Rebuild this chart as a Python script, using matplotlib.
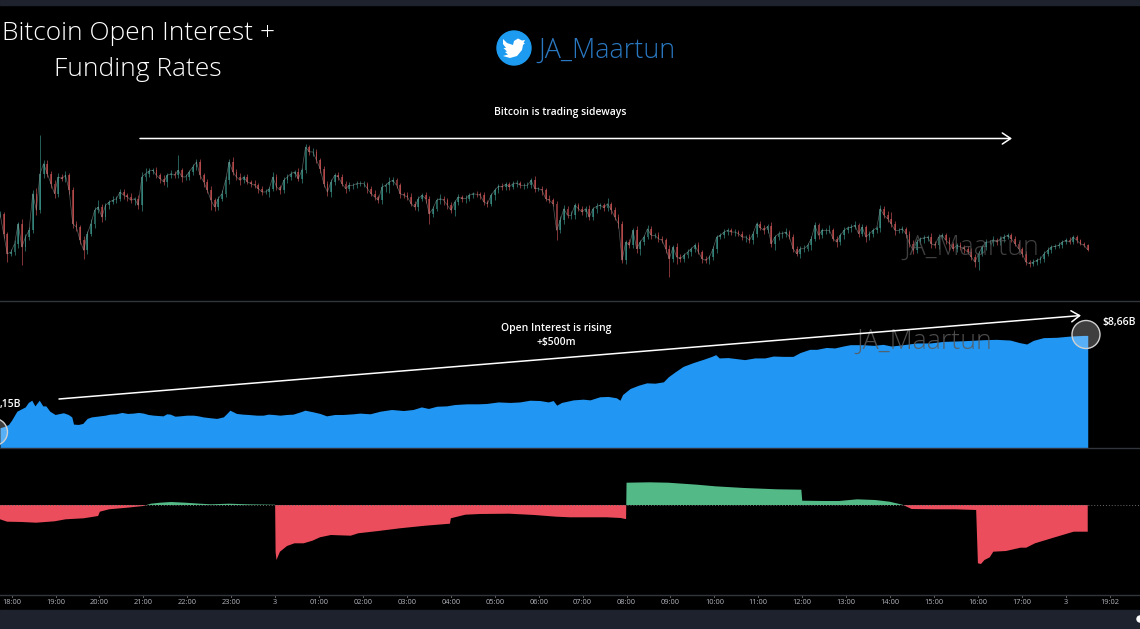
#!/usr/bin/env python3
"""Bitcoin open interest and funding rates, three stacked TradingView-style panes."""

import matplotlib

matplotlib.use("Agg")
import matplotlib.pyplot as plt
import numpy as np
from matplotlib.patches import Circle, Polygon, Rectangle

WIDTH, HEIGHT = 1140, 629
LEFT_HOUR, RIGHT_HOUR = -0.264, 25.69

# price has no scale in the picture, so it is in arbitrary units
price_close = [
    260, 200, 140, 145, 170, 230, 160, 190, 210, 320, 270, 380, 410, 380, 350, 320, 370, 365, 375, 330,
    230, 220, 180, 150, 200, 230, 270, 280, 250, 285, 295, 300, 305, 325, 315, 310, 300, 305, 285, 370,
    380, 388, 390, 375, 365, 355, 375, 380, 375, 390, 370, 370, 385, 400, 415, 375, 355, 330, 300, 280,
    305, 320, 360, 415, 385, 370, 360, 370, 355, 350, 345, 335, 325, 325, 335, 370, 340, 330, 360, 370,
    380, 385, 365, 390, 460, 445, 445, 420, 395, 350, 325, 355, 375, 370, 350, 335, 345, 345, 350, 350,
    350, 335, 320, 310, 300, 340, 345, 355, 360, 345, 320, 315, 310, 290, 280, 305, 315, 305, 260, 275,
    300, 305, 300, 285, 270, 295, 310, 305, 305, 315, 320, 318, 315, 295, 290, 315, 330, 342, 340, 348,
    340, 350, 352, 345, 345, 345, 360, 335, 335, 330, 305, 300, 290, 210, 240, 275, 255,
    255, 285, 275, 265, 275, 250, 275, 282, 285, 278, 290, 272, 250, 230, 120, 175, 165, 210, 155, 175,
    190, 215, 195, 195, 185, 180, 155, 125, 160, 130, 125, 135, 145, 155, 165, 145, 125, 120, 130, 155,
    190, 195, 205, 210, 205, 205, 200, 190, 190, 180, 200, 230, 218, 210, 222, 170, 190, 200, 200, 205,
    190, 155, 140, 155, 155, 165, 185, 225, 195, 210, 210, 210, 185, 175, 195, 210, 218, 220, 225, 200,
    220, 190, 200, 210, 218, 275, 255, 245, 230, 210, 210, 215, 200, 170, 150, 175, 185, 188, 190, 170,
    165, 190, 195, 180, 170, 155, 165, 160, 155, 145, 130, 115, 140, 160, 175, 175, 182, 175, 185, 190,
    195, 185, 170, 155, 140, 115, 110, 115, 120, 125, 140, 150, 160, 162, 165, 175, 180, 175, 190, 180,
    170, 165, 152,
]
price_upper = [
    8, 6, 5, 10, 12, 6, 14, 10, 9, 12, 18, 115, 10, 12, 8, 10, 12, 8, 14, 6,
    10, 8, 6, 12, 9, 14, 10, 22, 8, 7, 6, 12, 9, 10, 8, 7, 12, 6, 10, 14,
    16, 9, 8, 10, 6, 12, 8, 10, 7, 45, 8, 10, 6, 10, 10, 9, 7, 8, 12, 6,
    9, 10, 14, 8, 16, 8, 12, 7, 9, 6, 10, 8, 7, 9, 6, 14, 8, 7, 9, 10,
    8, 6, 12, 7, 8, 6, 12, 9, 6, 8, 7, 10, 6, 9, 8, 7, 10, 6, 8, 7,
    9, 6, 8, 10, 7, 12, 6, 16, 10, 7, 8, 6, 9, 12, 7, 8, 6, 10, 9, 8,
    7, 14, 8, 6, 9, 7, 8, 6, 10, 8, 6, 9, 7, 10, 6, 8, 7, 6, 9, 8,
    6, 8, 10, 7, 6, 9, 8, 14, 6, 8, 7, 10, 6, 8, 12, 10, 8, 14, 6, 7,
    8, 7, 10, 6, 9, 8, 7, 16, 6, 8, 10, 7, 6, 9, 8, 12, 7, 6, 10, 8,
    6, 9, 7, 8, 10, 6, 12, 8, 7, 9, 6, 8, 10, 7, 9, 6, 8, 7, 6, 10,
    8, 6, 9, 7, 8, 6, 10, 7, 6, 8, 9, 7, 14, 6, 8, 7, 12, 6, 9, 7,
    8, 10, 6, 7, 9, 6, 8, 7, 16, 6, 7, 8, 10, 6, 9, 14, 7, 8, 6, 9,
    7, 6, 12, 8, 14, 20, 7, 8, 9, 6, 7, 10, 8, 6, 9, 7, 12, 8, 10, 6,
    7, 9, 6, 8, 10, 6, 7, 12, 8, 9, 6, 8, 7, 10, 6, 8, 9, 7, 6, 8,
    7, 6, 8, 7, 9, 6, 7, 8, 10, 6, 7, 9, 6, 8, 10, 6, 7, 5, 6, 4,
]
price_lower = [
    10, 12, 25, 8, 10, 14, 55, 12, 10, 9, 14, 8, 12, 10, 14, 12, 10, 8, 9, 12,
    14, 12, 10, 25, 10, 8, 12, 9, 14, 8, 10, 7, 9, 8, 10, 12, 8, 14, 10, 16,
    12, 10, 8, 9, 12, 10, 14, 8, 9, 7, 14, 10, 9, 8, 10, 12, 14, 9, 30, 12,
    10, 8, 9, 12, 10, 8, 14, 9, 7, 10, 8, 12, 9, 7, 14, 8, 10, 12, 9, 8,
    10, 9, 8, 14, 7, 10, 12, 8, 14, 9, 12, 14, 8, 9, 7, 12, 8, 10, 9, 7,
    9, 12, 8, 10, 7, 10, 14, 22, 9, 8, 12, 7, 10, 8, 9, 12, 8, 14, 30, 10,
    8, 12, 14, 10, 9, 16, 8, 10, 12, 7, 9, 8, 12, 10, 9, 8, 14, 7, 8, 9,
    10, 7, 9, 8, 12, 7, 9, 10, 8, 14, 7, 9, 8, 30, 8, 12, 7, 12, 10, 8,
    9, 14, 10, 8, 12, 7, 10, 9, 14, 8, 12, 7, 10, 9, 8, 14, 20, 9, 7, 10,
    8, 9, 7, 12, 55, 10, 22, 10, 9, 8, 12, 9, 7, 14, 8, 10, 9, 12, 7, 8,
    10, 8, 12, 7, 9, 14, 8, 10, 9, 7, 12, 8, 9, 20, 8, 12, 10, 7, 9, 8,
    12, 9, 7, 14, 8, 10, 9, 12, 7, 8, 14, 9, 10, 8, 12, 7, 9, 8, 14, 10,
    9, 7, 12, 8, 10, 9, 14, 7, 8, 12, 9, 10, 8, 7, 12, 9, 14, 8, 10, 7,
    12, 20, 8, 10, 9, 12, 7, 9, 14, 25, 8, 10, 7, 12, 9, 8, 10, 7, 9, 8,
    7, 9, 8, 10, 6, 8, 7, 9, 6, 8, 7, 6, 8, 5, 7, 6, 8, 5, 6, 4,
]

oi_hours = [
    -0.264, -0.17, -0.07, 0.0, 0.12, 0.21, 0.31, 0.38, 0.46, 0.53, 0.63, 0.71, 0.78, 0.87, 0.99, 1.18, 1.29, 1.37,
    1.41, 1.52, 1.62, 1.72, 1.82, 2.01, 2.13, 2.24, 2.38, 2.51, 2.64, 2.77, 2.89, 3.0, 3.11, 3.23, 3.34, 3.45,
    3.53, 3.61, 3.72, 3.83, 3.99, 4.14, 4.25, 4.36, 4.52, 4.67, 4.82, 4.90, 4.97, 5.05, 5.12, 5.26, 5.39, 5.58,
    5.73, 5.84, 5.96, 6.11, 6.26, 6.41, 6.57, 6.68, 6.87, 7.02, 7.17, 7.36, 7.55, 7.78, 7.93, 8.16, 8.39, 8.65,
    8.92, 9.14, 9.33, 9.49, 9.68, 9.90, 10.09, 10.36, 10.62, 10.81, 11.08, 11.35, 11.57, 11.80, 12.03, 12.22,
    12.33, 12.41, 12.52, 12.79, 13.01, 13.17, 13.39, 13.58, 13.77, 13.85, 13.91, 14.08, 14.27, 14.46, 14.65, 14.84,
    14.95, 15.10, 15.29, 15.52, 15.75, 15.94, 16.03, 16.11, 16.31, 16.50, 16.69, 16.92, 17.15, 17.34, 17.57, 17.79,
    17.95, 18.17, 18.33, 18.55, 18.74, 18.93, 19.09, 19.39, 19.62, 19.84, 20.03, 20.30, 20.60, 20.91, 21.21, 21.67,
    22.12, 22.42, 22.73, 22.95, 23.11, 23.26, 23.49, 23.79, 24.09, 24.40, 24.50,
]
oi_billions = [
    8.123, 8.130, 8.142, 8.167, 8.219, 8.231, 8.244, 8.270, 8.283, 8.250, 8.283, 8.250, 8.250, 8.219, 8.200, 8.210,
    8.200, 8.186,
    8.144, 8.142, 8.148, 8.177, 8.186, 8.192, 8.196, 8.202, 8.204, 8.212, 8.206, 8.208, 8.212, 8.208, 8.200, 8.196,
    8.194, 8.192,
    8.204, 8.202, 8.190, 8.192, 8.196, 8.196, 8.192, 8.186, 8.181, 8.177, 8.186, 8.206, 8.225, 8.215, 8.206, 8.202,
    8.200, 8.196,
    8.196, 8.202, 8.200, 8.196, 8.200, 8.202, 8.215, 8.225, 8.215, 8.206, 8.192, 8.200, 8.200, 8.204, 8.208, 8.204,
    8.219, 8.229,
    8.223, 8.229, 8.244, 8.235, 8.248, 8.250, 8.258, 8.262, 8.262, 8.264, 8.273, 8.270, 8.273, 8.283, 8.281, 8.273,
    8.281, 8.254, 8.270, 8.285, 8.289, 8.285, 8.303, 8.305, 8.297, 8.283, 8.316, 8.351, 8.370, 8.384, 8.382, 8.390,
    8.419, 8.447, 8.480, 8.502, 8.521, 8.538, 8.548, 8.529, 8.531, 8.525, 8.519, 8.529, 8.529, 8.540, 8.538, 8.538,
    8.560, 8.579, 8.579, 8.590, 8.587, 8.598, 8.606, 8.606, 8.602, 8.608, 8.598, 8.606, 8.616, 8.616, 8.625, 8.629,
    8.635, 8.637, 8.633, 8.618, 8.610, 8.631, 8.647, 8.649, 8.656, 8.660, 8.660,
]

funding_hours = [
    -0.264, -0.10, 0.23, 0.56, 0.98, 1.23, 1.64, 1.97, 2.01, 2.22, 2.63, 3.0, 3.17, 3.38, 3.63, 3.96,
    4.29, 4.54, 4.95, 5.37, 5.97, 6.0, 6.01, 6.03, 6.11, 6.27, 6.44, 6.65, 6.85, 7.02, 7.27, 7.72,
    7.89, 8.35, 8.84, 9.42, 9.98, 10.0, 10.33, 10.66, 11.33, 11.9, 12.4, 12.71, 13.54, 13.87, 13.97, 13.99,
    14.0, 14.53, 14.95, 15.61, 16.02, 16.68, 17.43, 17.98, 18.0, 18.5, 18.84, 19.25, 19.66, 19.99,
    20.28, 20.49, 20.99, 21.48, 21.96, 22.0, 22.07, 22.15, 22.27, 22.35, 22.64, 22.97, 23.1, 23.3,
    23.72, 24.18, 24.5,
]
funding_pct = [
    -0.0143, -0.0167, -0.0170, -0.0177, -0.0163, -0.0143, -0.0133, -0.0110, -0.0067, -0.0043, -0.0027, -0.0010,
    0.0013, 0.0023, 0.0030, 0.0023,
    0.0013, 0.0007, 0.0013, 0.0007, 0.0003, 0.0003, -0.0467, -0.0550, -0.0467, -0.0410, -0.0383, -0.0383, -0.0357,
    -0.0323, -0.0300, -0.0307,
    -0.0283, -0.0260, -0.0233, -0.0207, -0.0187, -0.0133, -0.0097, -0.0090, -0.0087, -0.0100, -0.0117, -0.0123,
    -0.0123, -0.0130, -0.0140, -0.0140,
    0.0223, 0.0227, 0.0223, 0.0203, 0.0187, 0.0170, 0.0157, 0.0153, 0.0043, 0.0040, 0.0040, 0.0057, 0.0050, 0.0033,
    0.0003, -0.0040, -0.0043, -0.0043, -0.0050, -0.0583, -0.0590, -0.0550, -0.0523, -0.0467, -0.0460, -0.0427,
    -0.0427, -0.0383,
    -0.0327, -0.0267, -0.0267,
]

tick_hours = list(range(26))
tick_labels = [
    "18:00", "19:00", "20:00", "21:00", "22:00", "23:00", "3", "01:00", "02:00", "03:00", "04:00", "05:00", "06:00",
    "07:00", "08:00", "09:00", "10:00", "11:00", "12:00", "13:00", "14:00", "15:00", "16:00", "17:00", "3", "19:02",
]

BLACK = "#000000"
BAR_DARK = "#1e222d"
RULE = "#33353d"
BLUE = "#2196f3"
UP = "#3f9f94"
DOWN = "#d9585a"
FUND_UP = "#53b987"
FUND_DOWN = "#eb4d5c"
FONT = "Open Sans"


def pane(fig, top, bottom):
    """Axes spanning the full width between two pixel rows."""
    ax = fig.add_axes([0, 1 - bottom / HEIGHT, 1, (bottom - top) / HEIGHT])
    ax.set_facecolor(BLACK)
    ax.set_xlim(LEFT_HOUR, RIGHT_HOUR)
    for spine in ax.spines.values():
        spine.set_visible(False)
    ax.set_xticks([])
    ax.set_yticks([])
    return ax


def draw_candles(ax):
    close = np.array(price_close, dtype=float)
    opening = np.r_[close[0], close[:-1]]
    hours = np.linspace(LEFT_HOUR, 24.5, close.size)
    high = np.maximum(opening, close) + np.array(price_upper)
    low = np.minimum(opening, close) - np.array(price_lower)
    colors = [UP if c >= o else DOWN for c, o in zip(close, opening)]
    ax.vlines(hours, low, high, colors=colors, linewidth=0.6, alpha=0.7)
    ax.bar(hours, np.abs(close - opening), bottom=np.minimum(opening, close), width=0.04, color=colors, alpha=0.6)
    ax.plot(hours, close, color="#9aa5a3", linewidth=0.5, alpha=0.55)
    ax.set_ylim(0, 885)


def draw_annotations(fig):
    """Title, watermarks, arrows and callouts live on a pixel-coordinate overlay."""
    ov = fig.add_axes([0, 0, 1, 1], facecolor="none")
    ov.set_xlim(0, WIDTH)
    ov.set_ylim(HEIGHT, 0)
    ov.axis("off")

    ov.add_patch(Rectangle((0, 0), WIDTH, 5, color=BAR_DARK))
    ov.add_patch(Rectangle((0, 610), WIDTH, 19, color=BAR_DARK))
    for row in (300.5, 448, 595):
        ov.plot([0, WIDTH], [row, row], color=RULE, linewidth=1)
    ov.add_patch(Circle((1140, 619), 3, color="white"))

    title = dict(color="white", fontsize=19, family=FONT, weight="light", ha="center", va="center")
    ov.text(138, 34, "Bitcoin Open Interest +", **title)
    ov.text(138, 70, "Funding Rates", **title)

    ov.add_patch(Circle((514, 48), 17, color="#1d9bf0"))
    bird = [(503, 39), (507, 43), (513, 45), (514, 41), (518, 38.5), (522, 40.5), (525, 40), (523.5, 43), (525, 43),
            (523, 45), (522, 50), (517, 56), (510, 58), (503, 56), (508, 54.5), (505, 52), (507, 51.5), (503.5, 48),
            (506, 48), (503, 44)]
    ov.add_patch(Polygon(bird, closed=True, color="white", linewidth=0))
    ov.text(538, 51, "JA_Maartun", color="#2a78c2", fontsize=19.4, family=FONT, weight="light", ha="left", va="center")

    mark = dict(color="#5a5a5a", fontsize=19.2, family=FONT, weight="light", ha="center", va="center")
    ov.text(971, 248, "JA_Maartun", alpha=0.7, **mark)
    ov.text(924.5, 342, "JA_Maartun", alpha=0.85, **mark)

    arrow = dict(arrowstyle="->,head_length=0.6,head_width=0.4", color="white", linewidth=1.1, shrinkA=0, shrinkB=0)
    ov.annotate("", xy=(1012, 138.5), xytext=(140, 138.5), arrowprops=arrow)
    ov.annotate("", xy=(1081, 315.5), xytext=(59, 399), arrowprops=arrow)

    small = dict(color="white", fontsize=7.5, family=FONT, weight="semibold", va="center")
    ov.text(560, 113, "Bitcoin is trading sideways", ha="center", **small)
    ov.text(556, 329, "Open Interest is rising", ha="center", **small)
    ov.text(556, 343, "+$500m", ha="center", **small)
    ov.text(1119.5, 322, "$8,66B", ha="center", **small)
    ov.text(21.5, 405, ",15B", ha="right", **small)

    ov.add_patch(Circle((1086, 334.5), 14, facecolor="#ffffff", alpha=0.25, linewidth=0))
    ov.add_patch(Circle((1086, 334.5), 14, facecolor="none", edgecolor="#d0d0d0", linewidth=1))
    ov.add_patch(Circle((-6, 432), 13.5, facecolor="#ffffff", alpha=0.25, linewidth=0))
    ov.add_patch(Circle((-6, 432), 13.5, facecolor="none", edgecolor="#d0d0d0", linewidth=1))


def main():
    plt.rcParams["font.family"] = [FONT, "DejaVu Sans"]
    fig = plt.figure(figsize=(WIDTH / 100, HEIGHT / 100), dpi=100, facecolor=BLACK)

    ax_price = pane(fig, 5, 300.5)
    draw_candles(ax_price)

    ax_oi = pane(fig, 300.5, 448)
    ax_oi.fill_between(oi_hours, oi_billions, 8.0, color=BLUE, linewidth=0)
    ax_oi.set_ylim(8.005, 8.863)

    ax_fund = pane(fig, 448, 595)
    hours = np.array(funding_hours)
    rate = np.array(funding_pct)
    ax_fund.fill_between(hours, rate, 0, where=rate >= 0, interpolate=True, color=FUND_UP, linewidth=0)
    ax_fund.fill_between(hours, rate, 0, where=rate <= 0, interpolate=True, color=FUND_DOWN, linewidth=0)
    ax_fund.axhline(0, color="#6a6a6a", linewidth=0.7, linestyle=(0, (1, 2)))
    ax_fund.set_ylim(-0.090, 0.057)

    ax_time = pane(fig, 595, 610)
    ax_time.set_ylim(0, 1)
    for hour, label in zip(tick_hours, tick_labels):
        ax_time.text(hour, 0.48, label, color="#b2b5be", fontsize=5.4, ha="center", va="center")
        ax_time.plot([hour, hour], [1, 0.87], color="#777777", linewidth=0.6)

    draw_annotations(fig)

    fig.savefig("out.png", dpi=100, facecolor=BLACK)
    plt.close(fig)


if __name__ == "__main__":
    main()
